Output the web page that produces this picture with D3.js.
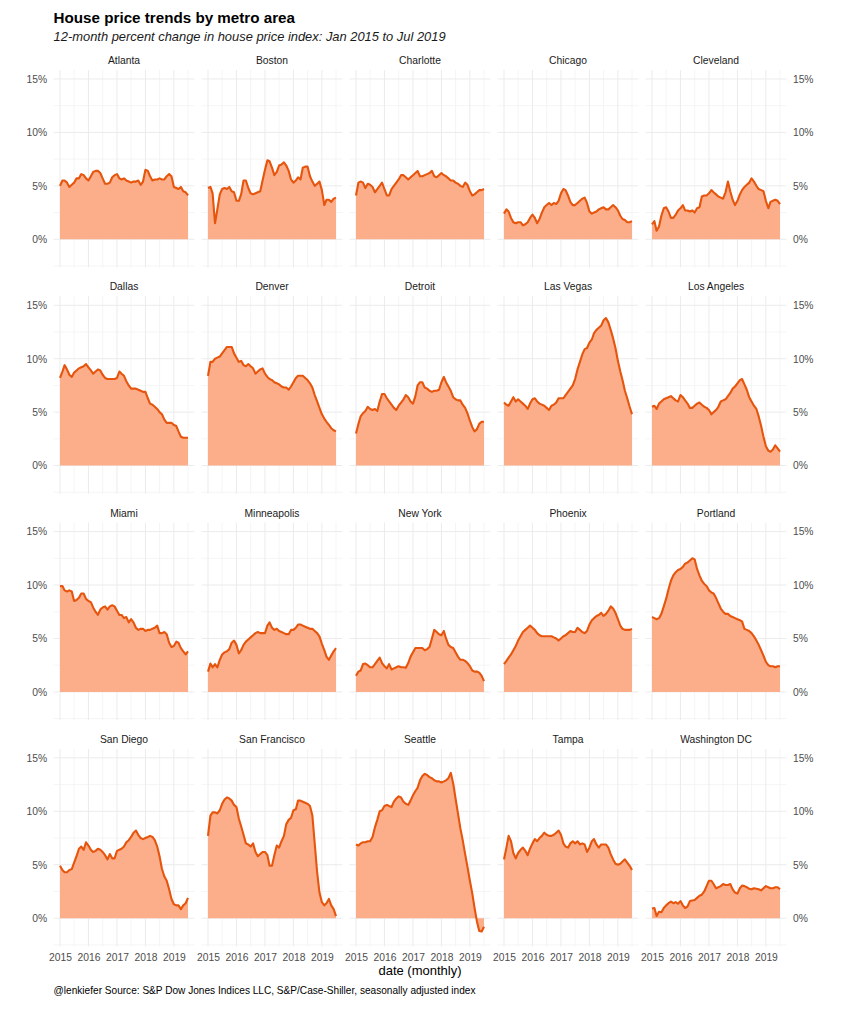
<!DOCTYPE html>
<html>
<head>
<meta charset="utf-8">
<script src="https://cdnjs.cloudflare.com/ajax/libs/d3/7.8.5/d3.min.js"></script>
<style>
  body { margin: 0; background: #fff; }
  svg { font-family: "Liberation Sans", Arial, sans-serif; }
</style>
</head>
<body>
<div id="chart"></div>
<script>

// 12-month % change, monthly Jan 2015 .. Jul 2019 (55 values each)
const atlanta = [5.0,5.5,5.5,5.3,4.9,5.1,5.3,5.7,5.7,6.1,6.0,5.7,5.5,5.9,6.3,6.4,6.4,6.2,5.7,5.2,5.2,5.3,5.8,6.0,6.1,5.7,5.6,5.7,5.5,5.4,5.3,5.4,5.4,5.5,5.1,5.4,6.5,6.4,5.9,5.5,5.6,5.6,5.7,5.6,5.6,5.9,6.1,5.9,4.9,4.8,4.7,4.9,4.5,4.4,4.1];
const boston = [4.8,4.9,4.3,1.5,2.8,4.2,4.7,4.8,4.7,4.9,4.5,4.4,3.6,3.6,4.2,5.5,5.5,4.8,4.3,4.2,4.3,4.4,4.5,5.5,6.5,7.4,7.3,6.7,6.0,6.3,6.9,7.0,7.2,6.9,6.4,5.6,5.3,5.5,5.8,5.6,6.7,6.8,6.8,5.9,5.4,5.0,5.2,5.4,4.6,3.2,3.7,3.7,3.5,3.8,3.9];
const charlotte = [4.1,5.3,5.4,5.3,4.8,5.2,5.1,4.9,4.4,4.7,5.0,5.3,4.7,4.1,4.1,4.7,5.0,5.3,5.6,6.0,6.0,5.8,5.6,5.8,6.0,6.2,6.4,5.9,5.9,6.0,6.1,6.2,6.4,5.9,5.8,6.0,6.2,6.0,5.9,5.7,5.5,5.5,5.3,5.2,5.0,4.9,5.3,5.1,4.5,4.1,4.2,4.4,4.6,4.6,4.7];
const chicago = [2.4,2.8,2.6,2.0,1.6,1.5,1.6,1.6,1.3,1.4,1.6,2.0,2.3,2.0,1.5,1.9,2.5,3.0,3.2,3.4,3.2,3.4,3.3,3.6,4.3,4.7,4.6,4.1,3.5,3.2,3.2,3.4,3.6,3.8,3.9,3.4,2.6,2.4,2.5,2.6,2.8,2.9,3.0,2.8,2.8,3.0,3.2,3.0,2.7,2.2,1.9,1.8,1.6,1.6,1.7];
const cleveland = [1.4,1.7,0.8,1.2,2.2,2.9,3.0,2.6,2.0,2.0,2.3,2.7,2.9,3.2,2.7,2.7,2.6,2.7,2.5,2.9,3.0,4.0,4.1,4.1,4.3,4.6,4.4,4.2,4.0,3.9,3.8,4.4,5.4,4.5,3.7,3.2,3.6,4.2,4.6,4.9,5.1,5.3,5.7,5.4,5.0,4.7,4.6,4.5,3.6,2.9,3.5,3.6,3.7,3.6,3.3];
const dallas = [8.2,8.8,9.4,9.0,8.5,8.3,8.7,8.9,9.1,9.2,9.3,9.5,9.2,8.9,8.6,8.8,9.0,8.9,8.5,8.2,8.1,8.1,8.1,8.1,8.2,8.8,8.6,8.4,7.9,7.5,7.2,7.2,7.2,7.1,7.0,6.9,6.9,6.3,5.8,5.7,5.5,5.3,5.0,4.8,4.3,4.0,4.0,4.0,3.8,3.7,3.2,2.7,2.6,2.6,2.6];
const denver = [8.4,9.7,9.7,10.0,10.1,10.2,10.5,10.8,11.1,11.1,11.1,10.5,10.1,9.7,9.8,9.4,9.3,9.5,9.3,9.1,8.6,8.8,9.0,9.1,8.6,8.3,8.1,8.0,7.8,7.7,7.6,7.4,7.3,7.3,7.1,7.4,7.8,8.2,8.4,8.4,8.4,8.2,8.0,7.7,7.3,6.6,6.0,5.4,4.8,4.4,4.1,3.8,3.5,3.3,3.2];
const detroit = [3.0,3.9,4.6,4.9,5.1,5.5,5.3,5.2,5.3,5.1,6.0,6.7,6.7,6.3,6.0,5.7,5.4,5.2,5.6,5.9,6.2,6.6,6.4,6.0,5.8,6.5,7.5,7.8,7.8,7.3,7.2,7.0,6.9,7.0,7.0,7.1,7.8,8.3,7.8,7.4,7.0,6.4,6.2,6.1,6.1,5.7,5.4,4.9,4.2,3.6,3.2,3.4,3.9,4.1,4.1];
const lasVegas = [5.9,5.7,5.6,6.0,6.4,6.0,6.2,6.0,5.8,5.6,5.3,5.8,6.2,6.3,6.0,5.8,5.7,5.6,5.4,5.2,5.6,5.7,5.9,6.3,6.3,6.3,6.6,6.9,7.2,7.5,8.1,9.0,9.7,10.4,10.9,11.0,11.5,11.8,12.4,12.7,12.9,13.1,13.6,13.8,13.4,12.7,11.9,11.0,9.8,8.8,8.0,7.0,6.3,5.5,4.8];
const losAngeles = [5.5,5.6,5.3,5.8,6.0,6.2,6.3,6.4,6.5,6.3,6.1,6.0,6.6,6.4,6.1,5.8,5.4,5.4,5.6,5.8,5.9,5.7,5.5,5.4,5.2,4.8,5.0,5.2,5.5,6.0,6.1,6.2,6.5,6.8,7.2,7.4,7.7,8.0,8.1,7.6,7.1,6.4,6.0,5.6,5.3,4.6,3.7,2.7,1.8,1.4,1.3,1.5,1.9,1.6,1.3];
const miami = [9.9,9.9,9.5,9.4,9.5,9.4,8.5,8.6,8.8,9.2,9.2,8.7,8.5,8.4,7.9,7.5,7.2,7.7,7.9,8.0,7.7,8.0,8.1,8.0,7.6,7.2,7.2,6.9,7.0,6.5,6.8,6.5,6.0,5.8,5.9,5.9,5.7,5.8,5.8,5.9,6.0,6.2,5.5,5.5,5.6,5.4,4.6,4.2,4.3,4.7,4.6,4.1,3.8,3.5,3.8];
const minneapolis = [1.9,2.65,2.3,2.6,2.3,3.0,3.5,3.7,3.8,4.0,4.6,4.8,4.4,3.6,3.9,4.4,4.7,4.9,5.1,5.3,5.5,5.6,5.5,5.5,5.5,6.2,6.5,6.0,5.8,5.9,5.7,5.6,5.5,5.4,5.4,5.8,5.8,6.0,6.3,6.3,6.2,6.1,6.0,5.9,5.9,5.7,5.5,5.2,4.5,3.9,3.3,3.0,3.4,3.8,4.1];
const newYork = [1.5,1.9,2.0,2.6,2.65,2.5,2.3,2.3,2.6,2.9,3.2,2.7,2.4,2.2,2.6,2.1,2.2,2.3,2.4,2.3,2.3,2.25,2.7,3.3,3.7,4.1,4.1,4.1,4.1,3.9,4.0,4.2,5.0,5.8,5.6,5.4,5.3,5.7,5.0,4.4,4.2,4.1,3.7,3.3,3.0,3.0,2.9,2.7,2.4,2.0,1.9,1.9,1.8,1.5,1.0];
const phoenix = [2.6,2.9,3.2,3.5,3.9,4.3,4.8,5.2,5.6,5.8,6.0,6.2,6.0,5.8,5.5,5.3,5.2,5.2,5.2,5.2,5.2,5.1,5.0,4.8,5.0,5.2,5.3,5.5,5.7,5.6,5.6,6.0,5.8,5.6,5.5,5.7,6.3,6.7,6.9,7.1,7.2,7.4,7.1,7.3,7.6,8.0,7.8,7.4,6.8,6.2,5.9,5.8,5.8,5.8,5.9];
const portland = [7.0,6.9,6.8,6.9,7.3,8.0,8.7,9.6,10.4,10.9,11.2,11.4,11.5,11.7,12.0,12.1,12.3,12.5,12.4,11.5,10.9,10.4,10.1,9.9,9.5,9.3,9.2,8.8,8.3,7.8,7.5,7.3,7.3,7.1,7.0,6.9,6.8,6.7,6.6,5.9,5.8,5.7,5.5,5.2,4.8,4.4,3.9,3.4,2.8,2.5,2.4,2.4,2.3,2.4,2.4];
const sanDiego = [4.9,4.5,4.3,4.3,4.5,4.6,5.2,5.8,6.5,6.7,6.4,7.1,6.8,6.4,6.2,6.3,6.5,6.4,6.2,5.9,5.5,6.0,5.6,5.6,6.3,6.4,6.5,6.7,7.1,7.3,7.6,8.0,8.2,7.8,7.5,7.4,7.5,7.6,7.7,7.6,7.3,6.7,5.8,4.6,3.9,3.5,2.7,1.8,1.3,1.2,1.2,0.85,1.2,1.4,1.9];
const sanFrancisco = [7.7,9.6,9.9,9.9,9.8,10.1,10.7,11.1,11.3,11.2,11.0,10.6,10.4,9.3,8.6,7.8,7.0,6.9,6.7,7.0,6.2,5.8,6.0,6.2,6.2,5.9,4.9,4.9,5.9,6.8,6.6,7.2,7.7,8.8,9.2,9.4,10.1,10.2,11.0,11.0,10.9,10.8,10.7,10.5,9.6,7.0,4.3,2.4,1.5,1.2,1.4,1.8,1.2,0.85,0.2];
const seattle = [6.9,6.8,7.0,7.1,7.1,7.2,7.2,7.6,8.5,9.2,10.0,10.1,10.5,10.6,10.5,10.4,10.9,11.2,11.4,11.3,10.9,10.7,10.6,11.0,11.5,11.9,12.2,12.9,13.3,13.5,13.4,13.2,13.1,12.9,12.8,12.8,12.7,12.8,12.9,13.1,13.6,12.6,11.2,9.8,8.4,7.3,6.0,4.8,3.5,2.3,1.0,-0.3,-1.2,-1.25,-0.8];
const tampa = [5.5,6.6,7.7,7.2,6.1,5.6,6.1,6.4,6.6,6.3,5.9,6.5,7.0,7.4,7.2,7.5,7.7,8.0,7.8,7.7,7.7,7.8,8.0,8.2,7.8,7.0,6.7,6.6,7.0,7.2,7.0,7.2,6.9,7.0,6.9,6.2,6.6,7.2,7.4,6.9,6.6,6.9,6.9,6.9,6.6,6.0,5.5,5.1,5.0,5.1,5.3,5.5,5.2,4.9,4.5];
const washingtonDC = [0.9,0.95,0.2,0.6,0.55,0.95,1.2,1.4,1.55,1.4,1.5,1.35,1.6,1.2,0.95,1.1,1.6,1.65,1.7,1.9,2.1,2.2,2.5,3.0,3.5,3.5,3.2,2.8,2.9,3.0,3.2,3.1,3.1,3.2,2.7,2.4,2.3,2.8,3.05,3.0,2.9,2.75,2.7,2.8,2.75,2.7,2.6,2.8,3.0,2.9,2.8,2.8,2.9,2.9,2.7];

const metros = ["Atlanta", "Boston", "Charlotte", "Chicago", "Cleveland",
                "Dallas", "Denver", "Detroit", "Las Vegas", "Los Angeles",
                "Miami", "Minneapolis", "New York", "Phoenix", "Portland",
                "San Diego", "San Francisco", "Seattle", "Tampa", "Washington DC"];
const values = [atlanta, boston, charlotte, chicago, cleveland,
                dallas, denver, detroit, lasVegas, losAngeles,
                miami, minneapolis, newYork, phoenix, portland,
                sanDiego, sanFrancisco, seattle, tampa, washingtonDC];

const startMonth = new Date(2015, 0, 1);
const endMonth = new Date(2019, 6, 1);
const years = [2015, 2016, 2017, 2018, 2019];
const pctTicks = [0, 5, 10, 15];
const pctMinor = [-2.5, 2.5, 7.5, 12.5];
const yLimits = [-1.8, 15];

const titleText = "House price trends by metro area";
const subtitleText = "12-month percent change in house price index: Jan 2015 to Jul 2019";
const xTitle = "date (monthly)";
const captionText = "@lenkiefer Source: S&P Dow Jones Indices LLC, S&P/Case-Shiller, seasonally adjusted index";

// layout
const W = 860, H = 1024;
const ncol = 5;
const left0 = 53.6, top0 = 70;
const pw = 140.8, ph = 197.5;
const colStep = 148, rowStep = 226.3;

const months = d3.timeMonth.range(startMonth, d3.timeMonth.offset(endMonth, 1));

const svg = d3.select("#chart").append("svg")
    .attr("width", W)
    .attr("height", H);

// scales (ggplot style 5% expansion)
const span = endMonth - startMonth;
const x = d3.scaleTime()
    .domain([new Date(+startMonth - span * 0.05), new Date(+endMonth + span * 0.05)])
    .range([0, pw]);

const yPad = (yLimits[1] - yLimits[0]) * 0.05;
const y = d3.scaleLinear()
    .domain([yLimits[0] - yPad, yLimits[1] + yPad])
    .range([ph, 0]);

const yearDates = years.map(d => new Date(d, 0, 1));
const midYears = years.map(d => new Date(d, 6, 1));

const area = d3.area()
    .x(d => x(d.date))
    .y0(y(0))
    .y1(d => y(d.v));

const line = d3.line()
    .x(d => x(d.date))
    .y(d => y(d.v));

// Title
svg.append("text")
    .attr("x", left0).attr("y", 22.5)
    .attr("font-size", 15.2).attr("font-weight", "bold")
    .attr("fill", "#000")
    .text(titleText);

svg.append("text")
    .attr("x", left0).attr("y", 40.5)
    .attr("font-size", 12.9).attr("font-style", "italic")
    .attr("fill", "#1a1a1a")
    .text(subtitleText);

metros.forEach((name, i) => {
    const col = i % ncol, row = Math.floor(i / ncol);
    const g = svg.append("g")
        .attr("transform", "translate(" + (left0 + col * colStep) + "," + (top0 + row * rowStep) + ")");

    const data = values[i].map((v, k) => ({date: months[k], v: v}));

    // minor grid
    g.selectAll(".vminor").data(midYears).enter().append("line")
        .attr("x1", d => x(d)).attr("x2", d => x(d))
        .attr("y1", 0).attr("y2", ph)
        .attr("stroke", "#f2f2f2").attr("stroke-width", 0.8);
    g.selectAll(".hminor").data(pctMinor).enter().append("line")
        .attr("x1", 0).attr("x2", pw)
        .attr("y1", d => y(d)).attr("y2", d => y(d))
        .attr("stroke", "#f2f2f2").attr("stroke-width", 0.8);

    // major grid
    g.selectAll(".vmajor").data(yearDates).enter().append("line")
        .attr("x1", d => x(d)).attr("x2", d => x(d))
        .attr("y1", 0).attr("y2", ph)
        .attr("stroke", "#ebebeb").attr("stroke-width", 1);
    g.selectAll(".hmajor").data(pctTicks).enter().append("line")
        .attr("x1", 0).attr("x2", pw)
        .attr("y1", d => y(d)).attr("y2", d => y(d))
        .attr("stroke", "#ebebeb").attr("stroke-width", 1);

    g.append("path")
        .datum(data)
        .attr("d", area)
        .attr("fill", "#fcad89");

    g.append("path")
        .datum(data)
        .attr("d", line)
        .attr("fill", "none")
        .attr("stroke", "#e6550d")
        .attr("stroke-width", 2.1)
        .attr("stroke-linejoin", "round");

    // strip label
    g.append("text")
        .attr("x", pw / 2).attr("y", -6)
        .attr("text-anchor", "middle")
        .attr("font-size", 10.3)
        .attr("fill", "#1a1a1a")
        .text(name);

    if (col === 0) {
        const ax = g.append("g")
            .call(d3.axisLeft(y).tickValues(pctTicks).tickFormat(d => d + "%").tickSize(0).tickPadding(6.5));
        ax.select(".domain").remove();
        ax.selectAll("text").attr("font-size", 10.3).attr("fill", "#4d4d4d").attr("font-family", null);
    }
    if (col === ncol - 1) {
        const ax = g.append("g")
            .attr("transform", "translate(" + pw + ",0)")
            .call(d3.axisRight(y).tickValues(pctTicks).tickFormat(d => d + "%").tickSize(0).tickPadding(6.5));
        ax.select(".domain").remove();
        ax.selectAll("text").attr("font-size", 10.3).attr("fill", "#4d4d4d").attr("font-family", null);
    }
    if (row === 3) {
        const ax = g.append("g")
            .attr("transform", "translate(0," + ph + ")")
            .call(d3.axisBottom(x).tickValues(yearDates).tickFormat(d3.timeFormat("%Y")).tickSize(0).tickPadding(7));
        ax.select(".domain").remove();
        ax.selectAll("text").attr("font-size", 10.3).attr("fill", "#4d4d4d").attr("font-family", null);
    }
});

// axis title and caption
const panelsRight = left0 + (ncol - 1) * colStep + pw;
svg.append("text")
    .attr("x", (left0 + panelsRight) / 2).attr("y", 975)
    .attr("text-anchor", "middle")
    .attr("font-size", 13)
    .attr("fill", "#000")
    .text(xTitle);

svg.append("text")
    .attr("x", left0).attr("y", 994)
    .attr("font-size", 10.1)
    .attr("fill", "#000")
    .text(captionText);

</script>
</body>
</html>
